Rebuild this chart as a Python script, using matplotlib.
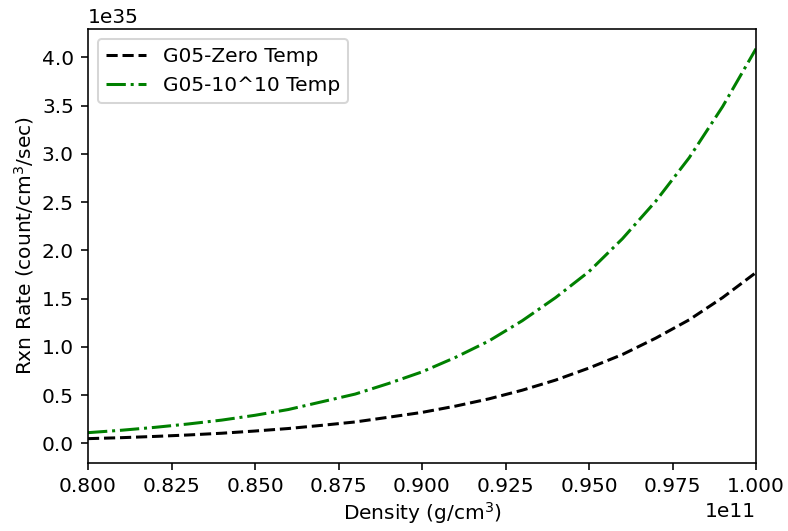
import matplotlib
matplotlib.use("Agg")
import matplotlib.pyplot as plt
import numpy as np

# Density (units of 1e11 g/cm^3)
density = [0.80, 0.81, 0.82, 0.83, 0.84, 0.85, 0.86, 0.87, 0.88, 0.89, 0.90,
           0.91, 0.92, 0.93, 0.94, 0.95, 0.96, 0.97, 0.98, 0.99, 1.00]
# Rxn rate (units of 1e35 count/cm^3/sec)
rate_zero = [0.048, 0.058, 0.071, 0.086, 0.104, 0.127, 0.153, 0.186, 0.221, 0.27, 0.32,
             0.385, 0.46, 0.55, 0.655, 0.78, 0.92, 1.09, 1.28, 1.51, 1.77]
rate_hot = [0.11, 0.135, 0.165, 0.20, 0.24, 0.29, 0.35, 0.43, 0.51, 0.62, 0.74,
            0.89, 1.06, 1.27, 1.51, 1.78, 2.12, 2.51, 2.96, 3.49, 4.09]
labels = ["G05-Zero Temp", "G05-10^10 Temp"]

dpi = 145
fig = plt.figure(figsize=(788 / dpi, 531 / dpi), dpi=dpi)
ax = fig.add_axes([88 / 788, (531 - 463) / 531, (756 - 88) / 788, (463 - 29) / 531])

x = np.array(density) * 1e11
ax.plot(x, np.array(rate_zero) * 1e35, 'k--', label=labels[0])
ax.plot(x, np.array(rate_hot) * 1e35, 'g-.', label=labels[1])

ax.set_xlim(0.8e11, 1.0e11)
ax.set_ylim(-0.2045e35, 4.2945e35)
ax.set_xlabel("Density (g/cm$^3$)", labelpad=2)
ax.set_ylabel("Rxn Rate (count/cm$^3$/sec)", labelpad=3)
ax.legend(loc="upper left")

fig.savefig("out.png", dpi=dpi)
